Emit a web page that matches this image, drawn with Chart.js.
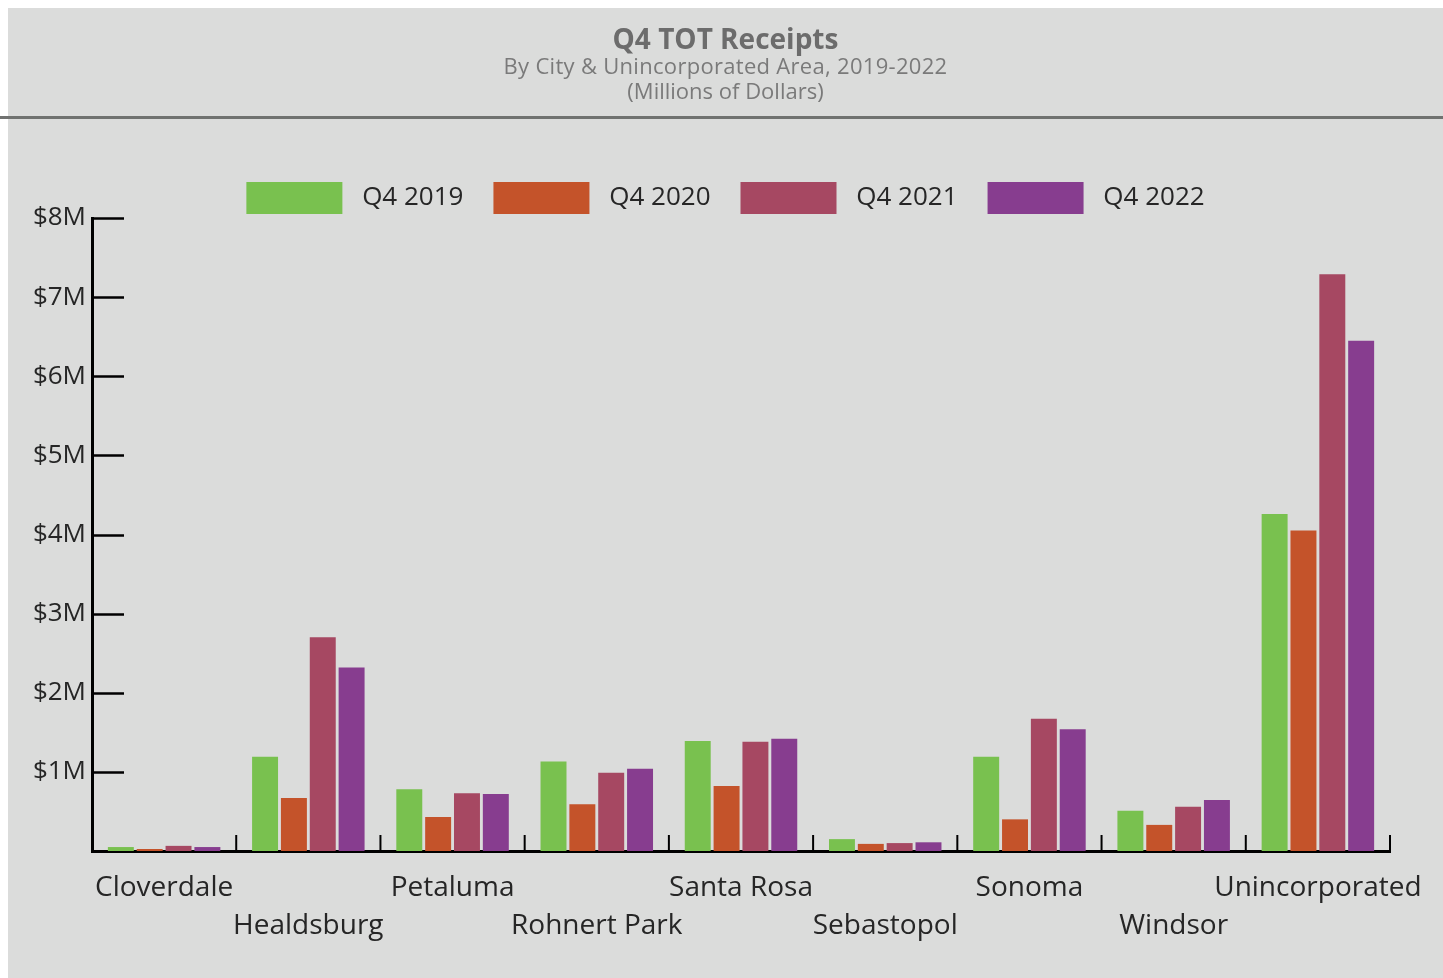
<!DOCTYPE html>
<html><head><meta charset="utf-8">
<script src="https://cdn.jsdelivr.net/npm/chart.js@4.4.0/dist/chart.umd.min.js"></script>
<style>
html,body{margin:0;padding:0;background:#fff;}
#wrap{position:absolute;left:8px;top:8px;width:1435px;height:970px;background:#dbdcdb;overflow:hidden;}
#c{position:absolute;left:0;top:0;}
#hdr{position:absolute;left:8px;top:8px;width:1435px;height:108px;z-index:2;font-family:'Open Sans',sans-serif;text-align:center;}
#hdr div{position:absolute;left:0;width:100%;white-space:nowrap;}
#t1{top:13px;height:34px;line-height:34px;font-size:28px;font-weight:700;color:#6c6c6c;}
#t2{top:43px;height:28px;line-height:28px;font-size:22px;color:#7a7a7a;letter-spacing:0.3px;}
#t3{top:68px;height:28px;line-height:28px;font-size:22px;color:#7a7a7a;}
#rule{position:absolute;left:0;top:116px;width:1443px;height:3px;background:#707270;z-index:2;}
</style></head>
<body>
<div id="wrap"><canvas id="c" width="1435" height="970"></canvas></div>
<div id="hdr">
  <div id="t1">Q4 TOT Receipts</div>
  <div id="t2">By City &amp; Unincorporated Area, 2019-2022</div>
  <div id="t3">(Millions of Dollars)</div>
</div>
<div id="rule"></div>
<script>
const categories = ['Cloverdale','Healdsburg','Petaluma','Rohnert Park','Santa Rosa','Sebastopol','Sonoma','Windsor','Unincorporated'];
const seriesNames = ['Q4 2019','Q4 2020','Q4 2021','Q4 2022'];
const q4_2019 = [0.05, 1.19, 0.78, 1.13, 1.39, 0.15, 1.19, 0.51, 4.26];
const q4_2020 = [0.025, 0.67, 0.43, 0.59, 0.82, 0.09, 0.40, 0.33, 4.05];
const q4_2021 = [0.065, 2.70, 0.73, 0.99, 1.38, 0.10, 1.67, 0.56, 7.29];
const q4_2022 = [0.05, 2.32, 0.72, 1.04, 1.42, 0.11, 1.54, 0.645, 6.45];
const yTickLabels = ['', '$1M', '$2M', '$3M', '$4M', '$5M', '$6M', '$7M', '$8M'];

const colors = ['#79c14f', '#c4532a', '#a64862', '#873d8f'];
const FONT = "'Open Sans', sans-serif";
const TXT = '#262626';

const legendFix = {
  id: 'legendFix',
  beforeUpdate(chart) {
    if (chart.legend && !chart.legend._patched) {
      const orig = chart.legend.fit;
      chart.legend.fit = function() { orig.call(this); this.height = 66; };
      chart.legend._patched = true;
    }
  }
};

const axisMarks = {
  id: 'axisMarks',
  afterDraw(chart) {
    const ctx = chart.ctx, ys = chart.scales.y, xs = chart.scales.x, ca = chart.chartArea;
    ctx.save();
    ctx.strokeStyle = '#000';
    ctx.lineWidth = 2.5;
    ys.ticks.forEach(t => {
      if (t.value <= 0) return;
      const y = Math.round(ys.getPixelForValue(t.value)) + 0.5;
      ctx.beginPath(); ctx.moveTo(ca.left, y); ctx.lineTo(ca.left + 32, y); ctx.stroke();
    });
    ctx.lineWidth = 2;
    const n = categories.length;
    for (let i = 1; i <= n; i++) {
      const x = i < n ? (xs.getPixelForValue(i - 1) + xs.getPixelForValue(i)) / 2 : ca.right;
      ctx.beginPath(); ctx.moveTo(x, ca.bottom); ctx.lineTo(x, ca.bottom - 16); ctx.stroke();
    }
    ctx.restore();
  }
};

const series = [q4_2019, q4_2020, q4_2021, q4_2022];
new Chart(document.getElementById('c'), {
  type: 'bar',
  data: {
    labels: categories,
    datasets: series.map((d, i) => ({
      label: seriesNames[i],
      data: d,
      backgroundColor: colors[i],
      borderWidth: 0,
      categoryPercentage: 0.8,
      barPercentage: 0.9,
      yAxisID: 'y'
    }))
  },
  options: {
    responsive: false,
    animation: false,
    layout: { padding: { left: 0, right: 0, top: 144, bottom: 0 } },
    plugins: {
      tooltip: { enabled: false },
      legend: {
        position: 'top',
        align: 'center',
        labels: {
          boxWidth: 96,
          boxHeight: 32,
          padding: 30,
          color: TXT,
          font: { family: FONT, size: 26 },
          generateLabels(chart) {
            return Chart.defaults.plugins.legend.labels.generateLabels(chart).map(l => { l.text = ' ' + l.text; l.lineWidth = 0; return l; });
          }
        }
      }
    },
    scales: {
      x: {
        grid: { display: false },
        border: { display: true, color: '#000', width: 3 },
        ticks: {
          autoSkip: false, maxRotation: 0, minRotation: 0, padding: 10,
          color: TXT,
          font: { family: FONT, size: 28, lineHeight: 1.35 },
          callback(v, i) { return i % 2 === 1 ? ['', categories[i]] : categories[i]; }
        },
        afterFit(s) { s.height = 127; }
      },
      y: {
        position: 'left',
        min: 0, max: 8,
        grid: { display: false, drawTicks: false },
        border: { display: true, color: '#000', width: 3 },
        ticks: {
          stepSize: 1, padding: 6, color: TXT,
          font: { family: FONT, size: 26 },
          callback(v) { return yTickLabels[v]; }
        },
        afterFit(s) { s.width = 84; }
      },
      yRight: {
        position: 'right',
        min: 0, max: 8,
        grid: { display: false, drawTicks: false },
        border: { display: false },
        ticks: { display: false },
        afterFit(s) { s.width = 53; }
      }
    }
  },
  plugins: [legendFix, axisMarks]
});
</script>
</body></html>
